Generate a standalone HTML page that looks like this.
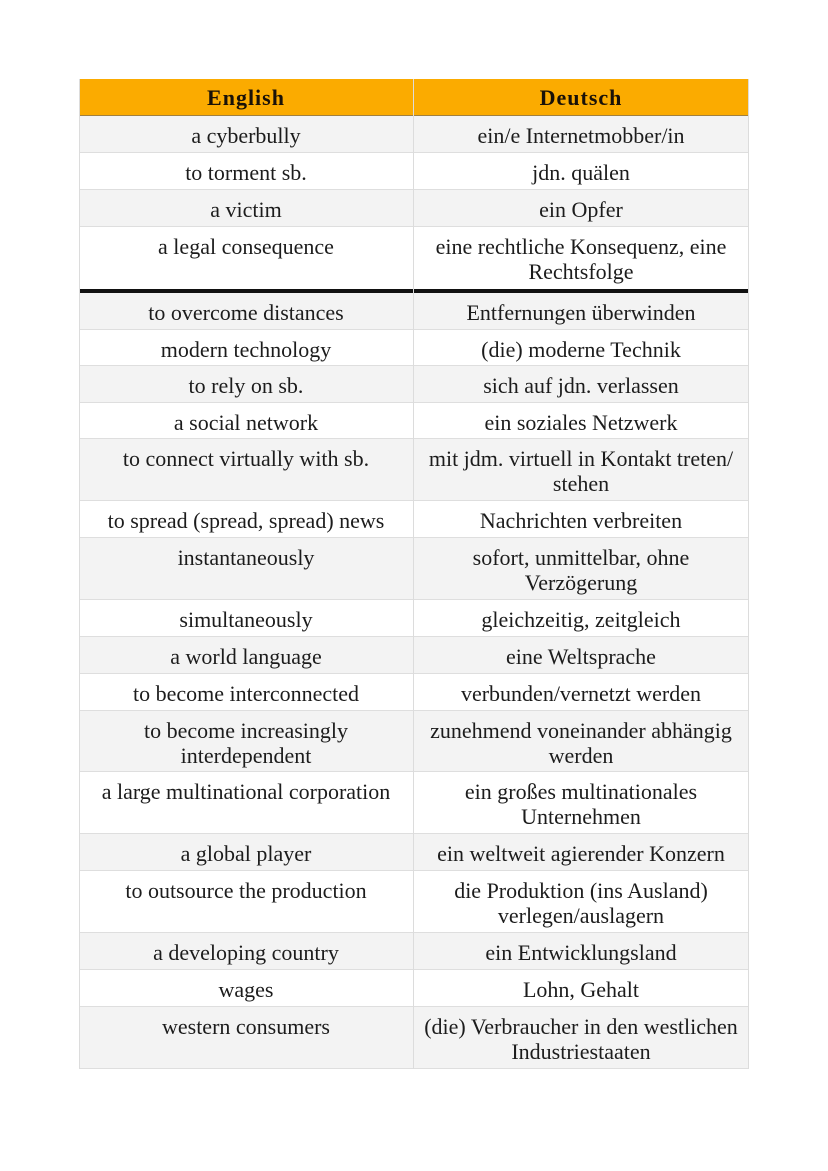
<!DOCTYPE html>
<html>
<head>
<meta charset="utf-8">
<style>
html,body{margin:0;padding:0;background:#fff;}
body{width:828px;height:1171px;position:relative;overflow:hidden;font-family:"Liberation Serif",serif;color:#1c1c1c;}
.row{position:absolute;left:79px;width:670px;box-sizing:border-box;border-bottom:1px solid #dedede;}
.g{background:#f3f3f3;}
.w{background:#fff;}
.c{position:absolute;top:0;text-align:center;font-size:22px;line-height:25px;padding-top:7px;white-space:nowrap;}
.l{left:0;width:334px;}
.r{left:334px;width:336px;}
.hd{background:#fbab00;border-bottom:1px solid #a08040;}
.hd .c{font-weight:bold;letter-spacing:1px;color:#1a1208;padding-top:6px;}
.vl{position:absolute;top:79px;width:1px;height:990px;background:#dcdcdc;}
.thick{position:absolute;left:79px;width:670px;top:289px;height:4px;background:#111;}
</style>
</head>
<body>
<div class="row hd" style="top:79px;height:37px;"><div class="c l">English</div><div class="c r">Deutsch</div></div>

<div class="row g" style="top:116px;height:37px;"><div class="c l">a cyberbully</div><div class="c r">ein/e Internetmobber/in</div></div>
<div class="row w" style="top:153px;height:37px;"><div class="c l">to torment sb.</div><div class="c r">jdn. quälen</div></div>
<div class="row g" style="top:190px;height:37px;"><div class="c l">a victim</div><div class="c r">ein Opfer</div></div>
<div class="row w" style="top:227px;height:62px;border-bottom:none;"><div class="c l">a legal consequence</div><div class="c r">eine rechtliche Konsequenz, eine<br>Rechtsfolge</div></div>

<div class="row g" style="top:293px;height:37px;"><div class="c l">to overcome distances</div><div class="c r">Entfernungen überwinden</div></div>
<div class="row w" style="top:330px;height:36px;"><div class="c l">modern technology</div><div class="c r">(die) moderne Technik</div></div>
<div class="row g" style="top:366px;height:37px;"><div class="c l">to rely on sb.</div><div class="c r">sich auf jdn. verlassen</div></div>
<div class="row w" style="top:403px;height:36px;"><div class="c l">a social network</div><div class="c r">ein soziales Netzwerk</div></div>
<div class="row g" style="top:439px;height:62px;"><div class="c l">to connect virtually with sb.</div><div class="c r">mit jdm. virtuell in Kontakt treten/<br>stehen</div></div>
<div class="row w" style="top:501px;height:37px;"><div class="c l">to spread (spread, spread) news</div><div class="c r">Nachrichten verbreiten</div></div>
<div class="row g" style="top:538px;height:62px;"><div class="c l">instantaneously</div><div class="c r">sofort, unmittelbar, ohne<br>Verzögerung</div></div>
<div class="row w" style="top:600px;height:37px;"><div class="c l">simultaneously</div><div class="c r">gleichzeitig, zeitgleich</div></div>
<div class="row g" style="top:637px;height:37px;"><div class="c l">a world language</div><div class="c r">eine Weltsprache</div></div>
<div class="row w" style="top:674px;height:37px;"><div class="c l">to become interconnected</div><div class="c r">verbunden/vernetzt werden</div></div>
<div class="row g" style="top:711px;height:61px;"><div class="c l">to become increasingly<br>interdependent</div><div class="c r">zunehmend voneinander abhängig<br>werden</div></div>
<div class="row w" style="top:772px;height:62px;"><div class="c l">a large multinational corporation</div><div class="c r">ein großes multinationales<br>Unternehmen</div></div>
<div class="row g" style="top:834px;height:37px;"><div class="c l">a global player</div><div class="c r">ein weltweit agierender Konzern</div></div>
<div class="row w" style="top:871px;height:62px;"><div class="c l">to outsource the production</div><div class="c r">die Produktion (ins Ausland)<br>verlegen/auslagern</div></div>
<div class="row g" style="top:933px;height:37px;"><div class="c l">a developing country</div><div class="c r">ein Entwicklungsland</div></div>
<div class="row w" style="top:970px;height:37px;"><div class="c l">wages</div><div class="c r">Lohn, Gehalt</div></div>
<div class="row g" style="top:1007px;height:62px;"><div class="c l">western consumers</div><div class="c r">(die) Verbraucher in den westlichen<br>Industriestaaten</div></div>

<div class="thick"></div>
<div class="vl" style="left:79px;"></div>
<div class="vl" style="left:413px;"></div>
<div class="vl" style="left:748px;"></div>
</body>
</html>
